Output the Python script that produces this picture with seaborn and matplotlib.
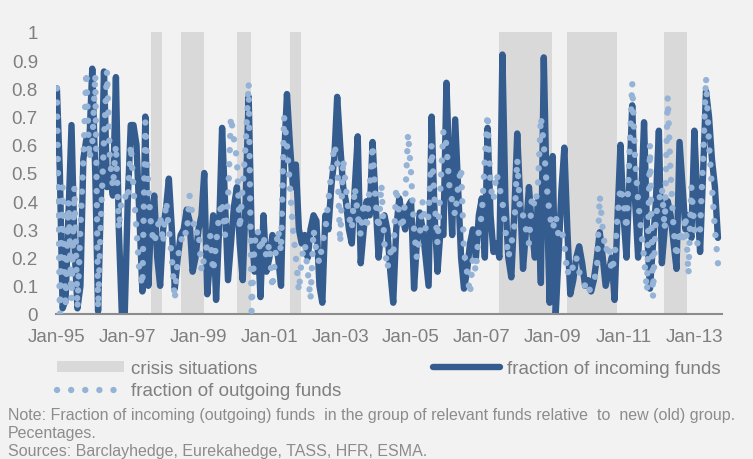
import numpy as np
import pandas as pd
import matplotlib
matplotlib.use("Agg")
import matplotlib.pyplot as plt
from matplotlib.patches import Patch
from matplotlib.lines import Line2D
import seaborn as sns

# ─────────────────────────────────────────────
# DATA  (monthly, Jan-95 .. Sep-13)
# ─────────────────────────────────────────────
START = "1995-01-01"

incoming = [
    0.80, 0.50, 0.02, 0.05, 0.35, 0.67, 0.25, 0.02, 0.10, 0.55, 0.62, 0.60,
    0.87, 0.50, 0.01, 0.45, 0.86, 0.45, 0.50, 0.42, 0.84, 0.30, 0.00, 0.00,
    0.40, 0.67, 0.67, 0.60, 0.35, 0.08, 0.70,
    0.10, 0.35, 0.42, 0.20, 0.10, 0.30, 0.38, 0.48, 0.30, 0.09, 0.20, 0.28,
    0.30, 0.37, 0.33, 0.15, 0.20, 0.30, 0.35, 0.50, 0.07, 0.20, 0.35, 0.05,
    0.30, 0.66, 0.40, 0.12, 0.25, 0.38, 0.45,
    0.25, 0.12, 0.40, 0.77, 0.30, 0.15, 0.28, 0.06, 0.35, 0.15, 0.20, 0.28,
    0.25, 0.20, 0.10, 0.55, 0.78, 0.60, 0.45, 0.53, 0.30, 0.25, 0.28, 0.20,
    0.30, 0.35, 0.33, 0.10, 0.04, 0.35, 0.30, 0.45, 0.55, 0.77,
    0.60, 0.45, 0.40, 0.30, 0.25, 0.45, 0.63, 0.18, 0.30, 0.40, 0.35, 0.61,
    0.40, 0.20, 0.30, 0.35, 0.30, 0.15, 0.04, 0.30, 0.41, 0.35, 0.30, 0.38,
    0.40, 0.09, 0.25, 0.36, 0.30, 0.20, 0.10, 0.70,
    0.35, 0.15, 0.30, 0.28, 0.82, 0.50, 0.28, 0.69, 0.45, 0.20, 0.09, 0.15,
    0.25, 0.30, 0.20, 0.35, 0.41, 0.20, 0.66, 0.35, 0.22, 0.25, 0.20, 0.92,
    0.40, 0.20, 0.13, 0.35, 0.64, 0.40, 0.16,
    0.30, 0.45, 0.30, 0.20, 0.40, 0.11, 0.91, 0.40, 0.04, 0.56, 0.00, 0.20,
    0.44, 0.59, 0.30, 0.07, 0.12, 0.20, 0.24, 0.18, 0.10, 0.12, 0.08, 0.12,
    0.20, 0.29, 0.20, 0.10, 0.15, 0.20, 0.05, 0.35, 0.60,
    0.35, 0.20, 0.45, 0.74, 0.40, 0.20, 0.40, 0.68, 0.30, 0.09, 0.25, 0.40,
    0.65, 0.18, 0.30, 0.40, 0.35, 0.25, 0.16, 0.61, 0.45, 0.30, 0.35, 0.27,
    0.65, 0.40, 0.22, 0.50, 0.79, 0.70, 0.55, 0.45, 0.27,
]

outgoing = [
    0.80, 0.00, 0.45, 0.02, 0.40, 0.05, 0.45, 0.02, 0.30, 0.55, 0.86, 0.55,
    0.60, 0.85, 0.02, 0.35, 0.62, 0.86, 0.55, 0.45, 0.60, 0.30, 0.42, 0.42,
    0.40, 0.60, 0.45, 0.30, 0.15, 0.10, 0.68,
    0.45, 0.30, 0.25, 0.30, 0.35, 0.25, 0.40, 0.30, 0.20, 0.05, 0.20, 0.25,
    0.30, 0.28, 0.42, 0.35, 0.28, 0.30, 0.15, 0.20, 0.25, 0.28, 0.15, 0.25,
    0.35, 0.40, 0.28, 0.40, 0.70, 0.62, 0.55,
    0.30, 0.45, 0.60, 0.82, 0.01, 0.25, 0.30, 0.22, 0.28, 0.20, 0.25, 0.09,
    0.20, 0.30, 0.22, 0.70, 0.60, 0.45, 0.30, 0.20, 0.08, 0.20, 0.25, 0.15,
    0.05, 0.30, 0.22, 0.18, 0.25, 0.30, 0.40, 0.50, 0.60, 0.55,
    0.25, 0.55, 0.45, 0.35, 0.30, 0.45, 0.35, 0.28, 0.40, 0.30, 0.45, 0.60,
    0.40, 0.30, 0.46, 0.25, 0.16, 0.22, 0.20, 0.45, 0.35, 0.30, 0.40, 0.64,
    0.50, 0.30, 0.20, 0.28, 0.40, 0.30, 0.35, 0.60,
    0.40, 0.25, 0.45, 0.65, 0.60, 0.45, 0.40, 0.35, 0.45, 0.52, 0.22, 0.15,
    0.07, 0.20, 0.15, 0.30, 0.35, 0.55, 0.71, 0.45, 0.40, 0.50, 0.45, 0.40,
    0.30, 0.20, 0.25, 0.30, 0.55, 0.35, 0.35,
    0.30, 0.25, 0.42, 0.38, 0.45, 0.70, 0.60, 0.45, 0.35, 0.30, 0.35, 0.28,
    0.30, 0.25, 0.14, 0.18, 0.16, 0.20, 0.15, 0.12, 0.10, 0.07, 0.10, 0.12,
    0.15, 0.42, 0.30, 0.22, 0.25, 0.15, 0.20, 0.35, 0.45,
    0.40, 0.30, 0.55, 0.82, 0.55, 0.40, 0.30, 0.20, 0.08, 0.60, 0.06, 0.35,
    0.40, 0.45, 0.30, 0.77, 0.50, 0.30, 0.20, 0.30, 0.25, 0.35, 0.14, 0.45,
    0.30, 0.25, 0.30, 0.55, 0.84, 0.60, 0.45, 0.30, 0.18,
]

crisis_start = ["1997-08-28", "1998-07-01", "2000-02-01", "2001-08-01",
                "2007-06-25", "2009-06-01", "2012-02-25"]
crisis_end   = ["1997-12-18", "1999-02-25", "2000-06-25", "2001-11-20",
                "2008-12-25", "2010-10-25", "2012-10-18"]

x_tick_dates  = ["1995-01-01", "1997-01-01", "1999-01-01", "2001-01-01", "2003-01-01",
                 "2005-01-01", "2007-01-01", "2009-01-01", "2011-01-01", "2013-01-01"]
x_tick_labels = ["Jan-95", "Jan-97", "Jan-99", "Jan-01", "Jan-03",
                 "Jan-05", "Jan-07", "Jan-09", "Jan-11", "Jan-13"]
y_ticks  = [0, 0.1, 0.2, 0.3, 0.4, 0.5, 0.6, 0.7, 0.8, 0.9, 1]
y_labels = ["0", "0.1", "0.2", "0.3", "0.4", "0.5", "0.6", "0.7", "0.8", "0.9", "1"]

LABEL_CRISIS = "crisis situations"
LABEL_IN     = "fraction of incoming funds"
LABEL_OUT    = "fraction of outgoing funds"
NOTE = ("Note: Fraction of incoming (outgoing) funds  in the group of relevant funds "
        "relative  to  new (old) group.\nPecentages.\n"
        "Sources: Barclayhedge, Eurekahedge, TASS, HFR, ESMA.")

# ─────────────────────────────────────────────
# STYLE
# ─────────────────────────────────────────────
BG    = "#F2F2F2"
DARK  = "#345C8E"
LIGHT = "#95B3D7"
SHADE = "#D9D9D9"
TXT   = "#7F7F7F"
DOTS  = (0.01, 2.2)

sns.set_theme(style="white")
plt.rcParams["font.family"] = ["Liberation Sans", "DejaVu Sans"]

assert len(incoming) == len(outgoing)
df = pd.DataFrame({
    "date":     pd.date_range(START, periods=len(incoming), freq="MS"),
    "incoming": incoming,
    "outgoing": outgoing,
})

fig = plt.figure(figsize=(7.53, 4.60), dpi=100, facecolor=BG)
ax = fig.add_axes([56 / 753, 145 / 460, 666 / 753, 282 / 460], facecolor=BG)

for s, e in zip(crisis_start, crisis_end):
    ax.axvspan(pd.Timestamp(s), pd.Timestamp(e), color=SHADE, lw=0, zorder=0)

sns.lineplot(data=df, x="date", y="incoming", ax=ax, color=DARK, linewidth=4.6,
             solid_joinstyle="round", solid_capstyle="round", zorder=2)
sns.lineplot(data=df, x="date", y="outgoing", ax=ax, color=LIGHT, linewidth=4.6, zorder=3)
ax.get_lines()[-1].set_dashes(DOTS)
ax.get_lines()[-1].set_dash_capstyle("round")

ax.set_ylim(0, 1)
ax.set_xlim(pd.Timestamp("1994-12-23"), pd.Timestamp("2013-10-13"))
ax.set_yticks(y_ticks)
ax.set_yticklabels(y_labels)
ax.set_xticks([pd.Timestamp(d) for d in x_tick_dates])
ax.set_xticklabels(x_tick_labels)
ax.set_xlabel("")
ax.set_ylabel("")
ax.tick_params(axis="both", length=0, labelsize=13.5, colors=TXT)
ax.tick_params(axis="y", pad=13)
ax.tick_params(axis="x", pad=10)
for side in ["top", "right", "left"]:
    ax.spines[side].set_visible(False)
ax.spines["bottom"].set_color("#8C8C8C")
ax.spines["bottom"].set_linewidth(1.5)

handles = [
    Patch(facecolor=SHADE, edgecolor="none"),
    Line2D([], [], color=LIGHT, linewidth=4.6, dashes=DOTS, dash_capstyle="round"),
    Line2D([], [], color=DARK, linewidth=4.6, solid_capstyle="round"),
]
fig.legend(handles, [LABEL_CRISIS, LABEL_OUT, LABEL_IN], ncol=2, frameon=False,
           loc="upper left", bbox_to_anchor=(40 / 753, 1 - 344 / 460),
           fontsize=13.5, labelcolor=TXT, handlelength=3.6, handleheight=0.5,
           handletextpad=0.37, columnspacing=4.85, labelspacing=0.3)

fig.text(8 / 753, 1 - 408 / 460, NOTE, fontsize=11.5, color="#8C8C8C",
         va="top", ha="left", linespacing=1.24)

fig.savefig("out.png", dpi=100, facecolor=BG)
